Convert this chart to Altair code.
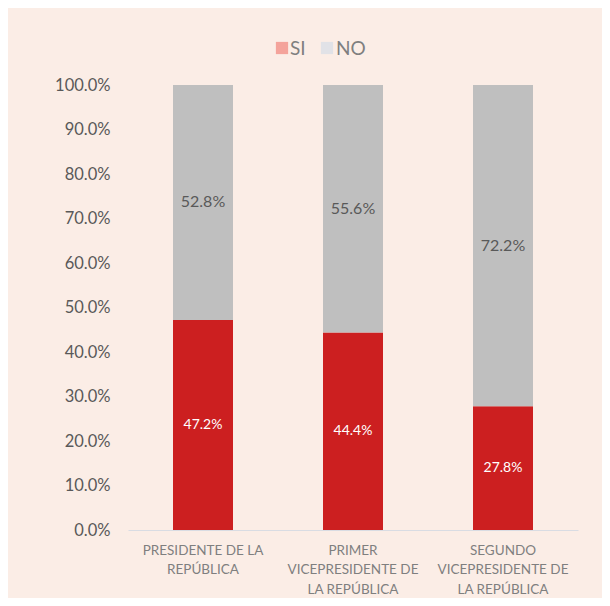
import altair as alt
import pandas as pd

categories = ["PRESIDENTE DE LA|REPÚBLICA",
              "PRIMER|VICEPRESIDENTE DE|LA REPÚBLICA",
              "SEGUNDO|VICEPRESIDENTE DE|LA REPÚBLICA"]
series = ["SI", "NO"]
si_values = [47.2, 44.4, 27.8]
no_values = [52.8, 55.6, 72.2]
bar_colors = ["#CC1F20", "#BFBFBF"]
legend_colors = ["#F4A39B", "#E1E2E7"]
y_ticks = [i / 10 for i in range(11)]

rows = []
for c, s, n in zip(categories, si_values, no_values):
    rows.append({"cat": c, "serie": "SI", "val": s / 100, "ord": 0})
    rows.append({"cat": c, "serie": "NO", "val": n / 100, "ord": 1})
df = pd.DataFrame(rows)

FONT = "Lato"

x_enc = alt.X("cat:N", sort=categories,
              scale=alt.Scale(paddingInner=0.6, paddingOuter=0.3),
              axis=alt.Axis(title=None, labelAngle=0, labelExpr="split(datum.label, '|')",
                            labelFont=FONT, labelFontSize=13.5, labelColor="#7F7F7F",
                            labelLineHeight=19.5, labelPadding=13, ticks=False,
                            domainColor="#D9DCE3", domainWidth=1.2, labelLimit=200))

base = alt.Chart(df)

bars = base.mark_bar().encode(
    x=x_enc,
    y=alt.Y("val:Q", stack="zero",
            scale=alt.Scale(domain=[0, 1]),
            axis=alt.Axis(title=None, format=".1%", values=y_ticks, grid=False,
                          domain=False, ticks=False, labelFont=FONT, labelFontSize=16.5,
                          labelColor="#595959", labelPadding=18)),
    color=alt.Color("serie:N", scale=alt.Scale(domain=series, range=bar_colors), legend=None),
    order=alt.Order("ord:Q"),
)

stacked = base.transform_stack(
    stack="val", as_=["v0", "v1"], groupby=["cat"], sort=[alt.SortField("ord")]
).transform_calculate(mid="(datum.v0 + datum.v1) / 2")

text_si = stacked.transform_filter(alt.datum.serie == "SI").mark_text(
    font=FONT, fontSize=14, color="white", baseline="middle"
).encode(x=alt.X("cat:N", sort=categories), y=alt.Y("mid:Q"), text=alt.Text("val:Q", format=".1%"))

text_no = stacked.transform_filter(alt.datum.serie == "NO").mark_text(
    font=FONT, fontSize=16, color="#595959", baseline="middle"
).encode(x=alt.X("cat:N", sort=categories), y=alt.Y("mid:Q"), text=alt.Text("val:Q", format=".1%"))

legend_layers = []
sq_x = [154, 199]
tx_x = [162, 208]
for lab, col, sx, tx in zip(series, legend_colors, sq_x, tx_x):
    legend_layers.append(
        alt.Chart(pd.DataFrame({"l": [lab]})).mark_square(size=150, color=col, opacity=1)
        .encode(x=alt.value(sx), y=alt.value(-37))
    )
    legend_layers.append(
        alt.Chart(pd.DataFrame({"l": [lab]})).mark_text(
            font=FONT, fontSize=19, color="#7F7F7F", align="left", baseline="middle")
        .encode(x=alt.value(tx), y=alt.value(-36), text="l:N")
    )

chart = alt.layer(bars, text_si, text_no, *legend_layers).properties(
    width=450, height=445,
    padding={"left": 120, "top": 77, "right": 24, "bottom": 68},
    autosize=alt.AutoSizeParams(type="none"),
    background="#FBEDE6",
).configure_view(stroke=None)

chart.save("out.html", embed_options={"renderer": "svg", "actions": False})
